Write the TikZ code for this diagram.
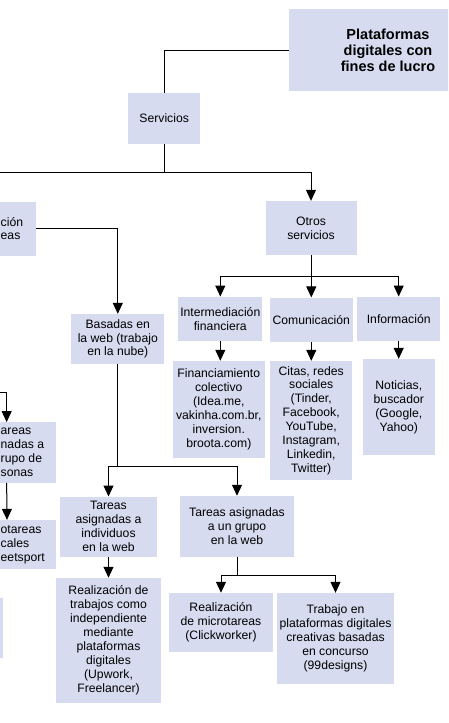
\documentclass[tikz,border=0pt]{standalone}
\usepackage{fontspec}
\setmainfont{Liberation Sans}
\usetikzlibrary{arrows.meta}
\definecolor{boxfill}{RGB}{214,219,240}
\begin{document}
\begin{tikzpicture}[x=1pt,y=-1pt,
  box/.style={fill=boxfill, draw=none, inner sep=0pt, align=center, font=\fontsize{12.2}{13.9}\selectfont},
  lbl/.style={inner sep=0pt, align=left, anchor=west, font=\fontsize{12.2}{13.9}\selectfont},
  conn/.style={line width=1pt, black},
  arr/.style={-{Triangle[width=10pt,length=11pt]}}
]
\useasboundingbox (0,0) rectangle (448,723);
\clip (0,0) rectangle (448,723);

\node[box, minimum width=198, minimum height=82, font=\fontsize{14.5}{16}\selectfont\bfseries] (title) at (388,50) {Plataformas\\digitales con\\fines de lucro};
\node[box, minimum width=71.7, minimum height=51] (serv) at (164.2,118.5) {Servicios};
\node[box, minimum width=115.4, minimum height=53.7] (tar) at (-22,228.8) {};
\node[lbl] (tarlbl) at (0.5,228.6) {ción\\eas};
\node[box, minimum width=91, minimum height=53.7] (otros) at (311,227.9) {Otros\\servicios};
\node[box, minimum width=93, minimum height=49.7] (basadas) at (117.8,338.9) {Basadas en\\la web (trabajo\\en la nube)};
\node[box, minimum width=84, minimum height=44.3] (finan) at (220.3,318.9) {Intermediación\\financiera};
\node[box, minimum width=82.7, minimum height=44.3] (comun) at (311.3,319.8) {Comunicación};
\node[box, minimum width=82.7, minimum height=44] (info) at (398.7,318.7) {Información};
\node[box, minimum width=92.3, minimum height=96.7] (financ) at (218.8,409.3) {Financiamiento\\colectivo\\(Idea.me,\\vakinha.com.br,\\inversion.\\broota.com)};
\node[box, minimum width=82.3, minimum height=119] (citas) at (311.2,420.5) {Citas, redes\\sociales\\(Tinder,\\Facebook,\\YouTube,\\Instagram,\\Linkedin,\\Twitter)};
\node[box, minimum width=72.3, minimum height=96] (notic) at (398.8,407) {Noticias,\\buscador\\(Google,\\Yahoo)};
\node[box, minimum width=98, minimum height=60.4] (pers) at (6.65,452.5) {};
\node[lbl] (perslbl) at (0.5,452.5) {areas\\nadas a\\rupo de\\sonas};
\node[box, minimum width=98, minimum height=49.3] (micloc) at (7,544.7) {};
\node[lbl] (micloclbl) at (0.5,544.9) {otareas\\cales\\eetsport};
\node[box, minimum width=98, minimum height=60] (bl) at (-46,628) {};
\node[box, minimum width=97, minimum height=60] (indiv) at (108.5,526.7) {Tareas\\asignadas a\\individuos\\en la web};
\node[box, minimum width=114, minimum height=60.7] (grupo) at (237,526.3) {Tareas asignadas\\a un grupo\\en la web};
\node[box, minimum width=105, minimum height=124.7] (trab) at (108.5,640.3) {Realización de\\trabajos como\\independiente\\mediante\\plataformas\\digitales\\(Upwork,\\Freelancer)};
\node[box, minimum width=104, minimum height=58.7] (micro) at (221,622.3) {Realización\\de microtareas\\(Clickworker)};
\node[box, minimum width=117, minimum height=91] (conc) at (335.5,638.5) {Trabajo en\\plataformas digitales\\creativas basadas\\en concurso\\(99designs)};

\draw[conn] (title.west) -| (serv.north);
\coordinate (j1) at (164.2,172.7);
\coordinate (l1) at (-5,172.7);
\draw[conn] (serv.south) -- (j1) -- (l1);
\draw[conn,arr] (j1) -| (otros.north);
\draw[conn,arr] (tar.east) -| (basadas.north);
\coordinate (j2) at (117.8,466.7);
\draw[conn] (basadas.south) -- (j2);
\draw[conn,arr] (j2) -| (indiv.north);
\draw[conn,arr] (j2) -| (grupo.north);
\draw[conn,arr] (indiv.south) -- (trab.north);
\coordinate (j3) at (237,575);
\draw[conn] (grupo.south) -- (j3);
\draw[conn,arr] (j3) -| (micro.north);
\draw[conn,arr] (j3) -| (conc.north);
\coordinate (j4) at (311,276.7);
\draw[conn] (otros.south) -- (j4);
\draw[conn,arr] (j4) -| (finan.north);
\draw[conn,arr] (j4) -| (comun.north);
\draw[conn,arr] (j4) -| (info.north);
\draw[conn,arr] (finan.south) -- (finan.south |- financ.north);
\draw[conn,arr] (comun.south) -- (comun.south |- citas.north);
\draw[conn,arr] (info.south) -- (info.south |- notic.north);
\coordinate (l2) at (-5,392.3);
\draw[conn,arr] (l2) -| (pers.north);
\draw[conn,arr] (pers.south) -- (micloc.north);
\end{tikzpicture}
\end{document}
